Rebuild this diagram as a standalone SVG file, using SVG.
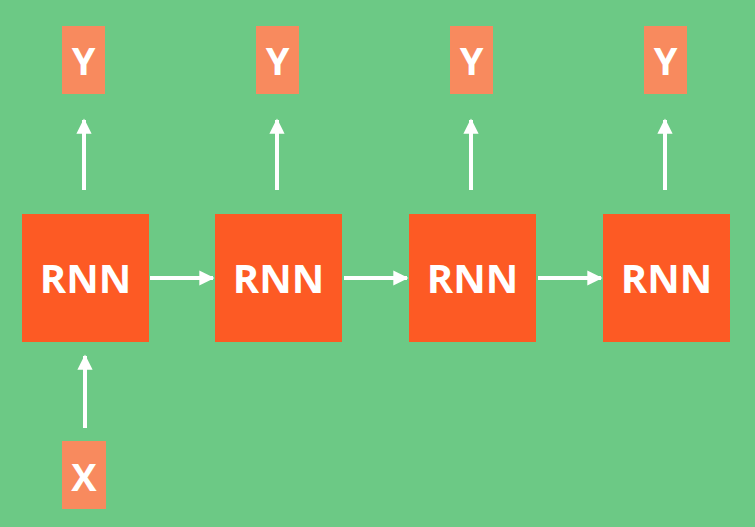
<svg xmlns="http://www.w3.org/2000/svg" width="755" height="527" viewBox="0 0 755 527">
<style>
.rnn{fill:#fd5a24}.io{fill:#f88a5e}
.t{font-family:"Open Sans","Liberation Sans",sans-serif;font-weight:bold;fill:#fff;text-anchor:middle}
.c{stroke:#fff;stroke-width:4;fill:none;marker-end:url(#a)}
</style>
<defs><marker id="a" viewBox="0 0 10 10" refX="9" refY="5" markerWidth="3.8" markerHeight="3.8" orient="auto" markerUnits="strokeWidth"><path d="M0,0L10,5L0,10z" fill="#fff"/></marker></defs>
<rect width="755" height="527" fill="#6cc985"/>
<g id="rnn1"><rect class="rnn" x="22" y="214" width="127" height="128"/><text class="t" x="85.5" y="293" font-size="40">RNN</text></g>
<g id="rnn2"><rect class="rnn" x="215" y="214" width="127" height="128"/><text class="t" x="278.5" y="293" font-size="40">RNN</text></g>
<g id="rnn3"><rect class="rnn" x="409" y="214" width="127" height="128"/><text class="t" x="472.5" y="293" font-size="40">RNN</text></g>
<g id="rnn4"><rect class="rnn" x="603" y="214" width="127" height="128"/><text class="t" x="666.5" y="293" font-size="40">RNN</text></g>
<g id="y1"><rect class="io" x="62" y="26" width="43" height="68"/><text class="t" x="83.5" y="75" font-size="38">Y</text></g>
<g id="y2"><rect class="io" x="256" y="26" width="43" height="68"/><text class="t" x="277.5" y="75" font-size="38">Y</text></g>
<g id="y3"><rect class="io" x="450" y="26" width="43" height="68"/><text class="t" x="471.5" y="75" font-size="38">Y</text></g>
<g id="y4"><rect class="io" x="644" y="26" width="43" height="68"/><text class="t" x="665.5" y="75" font-size="38">Y</text></g>
<g id="x1"><rect class="io" x="62" y="441" width="44" height="68"/><text class="t" x="84" y="491" font-size="38">X</text></g>
<g id="connectors">
<path class="c" d="M84,190V120"/><path class="c" d="M277,190V120"/><path class="c" d="M471,190V120"/><path class="c" d="M665,190V120"/>
<path class="c" d="M85,428V356"/>
<path class="c" d="M150,278H213"/><path class="c" d="M344,278H407"/><path class="c" d="M538,278H601"/>
</g>
</svg>
